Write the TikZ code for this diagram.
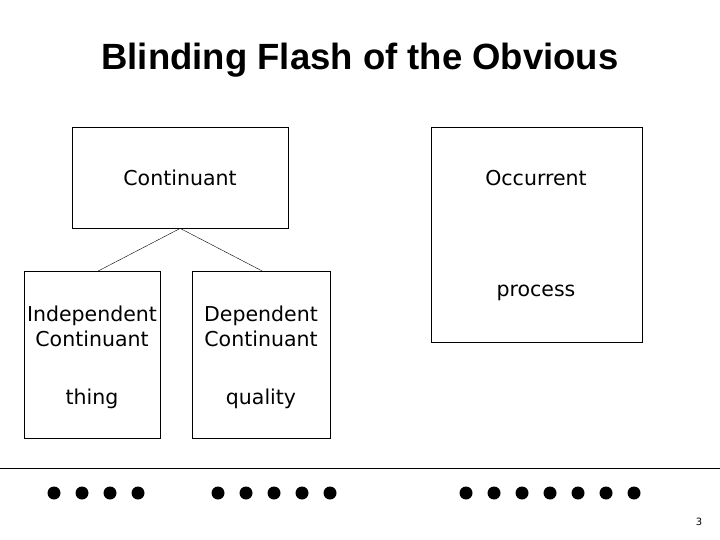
\documentclass[tikz,border=0pt]{standalone}
\usepackage{fontspec}
\setmainfont{DejaVu Sans}
\newfontfamily\titlefont{Liberation Sans}
\usetikzlibrary{positioning,calc}
\begin{document}
\begin{tikzpicture}[x=1pt, y=-1pt,
    box/.style={draw, inner sep=0pt, anchor=north west},
    lbl/.style={font=\fontsize{20.5}{25}\selectfont, align=center},
    dot/.style={circle, fill, inner sep=0pt, minimum size=13pt}]
    \useasboundingbox (0,0) rectangle (720,540);
    \node[font=\titlefont\bfseries\fontsize{36.5}{42}\selectfont] (title) at (360,60) {Blinding Flash of the Obvious};

    % top level
    \node[box, minimum width=216pt, minimum height=101pt] (cont) at (72,127) {};
    \node[box, minimum width=211pt, minimum height=215pt] (occ) at (431,127) {};
    \node[lbl] (contlbl) at (180,178) {Continuant};
    \node[lbl] (occlbl) at (536,178) {Occurrent};
    \node[lbl] (proc) at (536,293) {process};

    % second level
    \node[box, minimum width=136pt, minimum height=167pt] (indep) at (24,271) {};
    \node[box, minimum width=138pt, minimum height=167pt] (dep) at (192,271) {};
    \node[lbl] (indeplbl) at (92,326) {Independent\\Continuant};
    \node[lbl] (deplbl) at (261,326) {Dependent\\Continuant};
    \node[lbl] (thing) at (92,399) {thing};
    \node[lbl] (qual) at (261,399) {quality};

    \draw (cont.south) -- ($(indep.north)+(6,0)$);
    \draw (cont.south) -- ($(dep.north)+(1,0)$);

    % footer
    \coordinate (fl) at (0,468);
    \coordinate (fr) at (720,468);
    \draw (fl) -- (fr);
    \foreach \x in {54,82,110,138,218,246,274,302,330,466,494,522,550,578,606,634}
        \node[dot] at (\x,493) {};
    \node[font=\fontsize{10}{12}\selectfont] (page) at (699,522) {3};
\end{tikzpicture}
\end{document}
